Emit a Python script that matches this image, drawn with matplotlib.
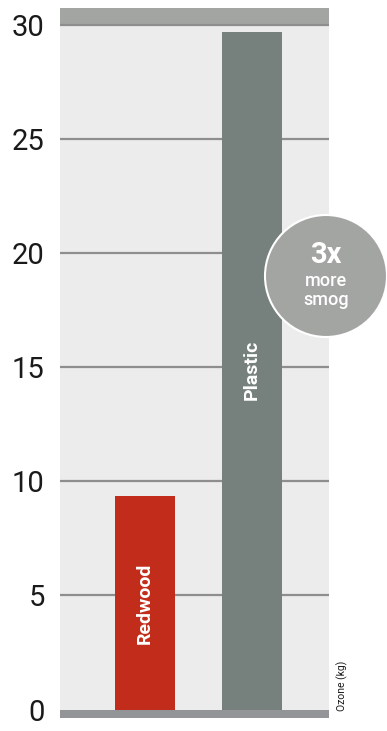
import matplotlib
matplotlib.use("Agg")
import matplotlib.pyplot as plt
from matplotlib.patches import Circle

plt.rcParams['font.family'] = ['Roboto', 'DejaVu Sans']

# Data
materials = ["Redwood", "Plastic"]
ozone_kg = [9.35, 29.7]
bar_colors = ["#c12d1a", "#76807c"]
y_ticks = [0, 5, 10, 15, 20, 25, 30]
unit_label = "Ozone (kg)"
callout = ["3x", "more", "smog"]

W, H = 387, 731
fig = plt.figure(figsize=(W / 100, H / 100), dpi=100)
fig.patch.set_facecolor("white")

# axes spans from the top band to the bottom band (pixels)
left_px, right_px, top_px, bot_px = 60, 329, 8, 718
ax = fig.add_axes([left_px / W, 1 - bot_px / H,
                   (right_px - left_px) / W, (bot_px - top_px) / H])
ax.set_facecolor("#ececec")

ymin, ymax = -0.37, 30.75
ax.set_ylim(ymin, ymax)
ax.set_xlim(0, 1)

# top band and base band
ax.axhspan(30, ymax, color="#a3a5a2", zorder=1, lw=0)
ax.axhspan(ymin, 0, color="#939497", zorder=1, lw=0)

# gridlines
for t in y_ticks[1:]:
    ax.axhline(t, color="#8e8e8e", lw=1.6, zorder=2)

# bars
x_pos = [0.316, 0.7138]
bar_w = 60 / (right_px - left_px)
ax.bar(x_pos, ozone_kg, width=bar_w, color=bar_colors, zorder=3)

# labels inside bars
label_y = [4.65, 14.9]
for x, lab, ly in zip(x_pos, materials, label_y):
    ax.text(x, ly, lab, rotation=90, ha="center", va="center",
            color="white", fontsize=14, fontweight="bold", zorder=4)

ax.set_yticks(y_ticks)
ax.set_yticklabels([str(t) for t in y_ticks])
ax.tick_params(axis="y", length=0, labelsize=21, pad=11, colors="#1a1a1a")
ax.set_xticks([])
for s in ax.spines.values():
    s.set_visible(False)

# callout circle
cx, r = 326 / W, 61
circ = Circle((326, H - 276), r, transform=None, facecolor="#a3a5a2",
              edgecolor="white", lw=1.5, zorder=10)
fig.patches.append(circ)
fig.text(cx, 1 - 255 / H, callout[0], ha="center", va="center", color="white",
         fontsize=21, fontweight="bold", zorder=11)
fig.text(cx, 1 - 281 / H, callout[1], ha="center", va="center", color="white",
         fontsize=13, fontweight="medium", zorder=11)
fig.text(cx, 1 - 300 / H, callout[2], ha="center", va="center", color="white",
         fontsize=13, fontweight="medium", zorder=11)

# unit label
fig.text(342 / W, 1 - 686 / H, unit_label, rotation=90, ha="center", va="center",
         fontsize=7.5, color="#1a1a1a")

fig.savefig("out.png", dpi=100, facecolor="white")
